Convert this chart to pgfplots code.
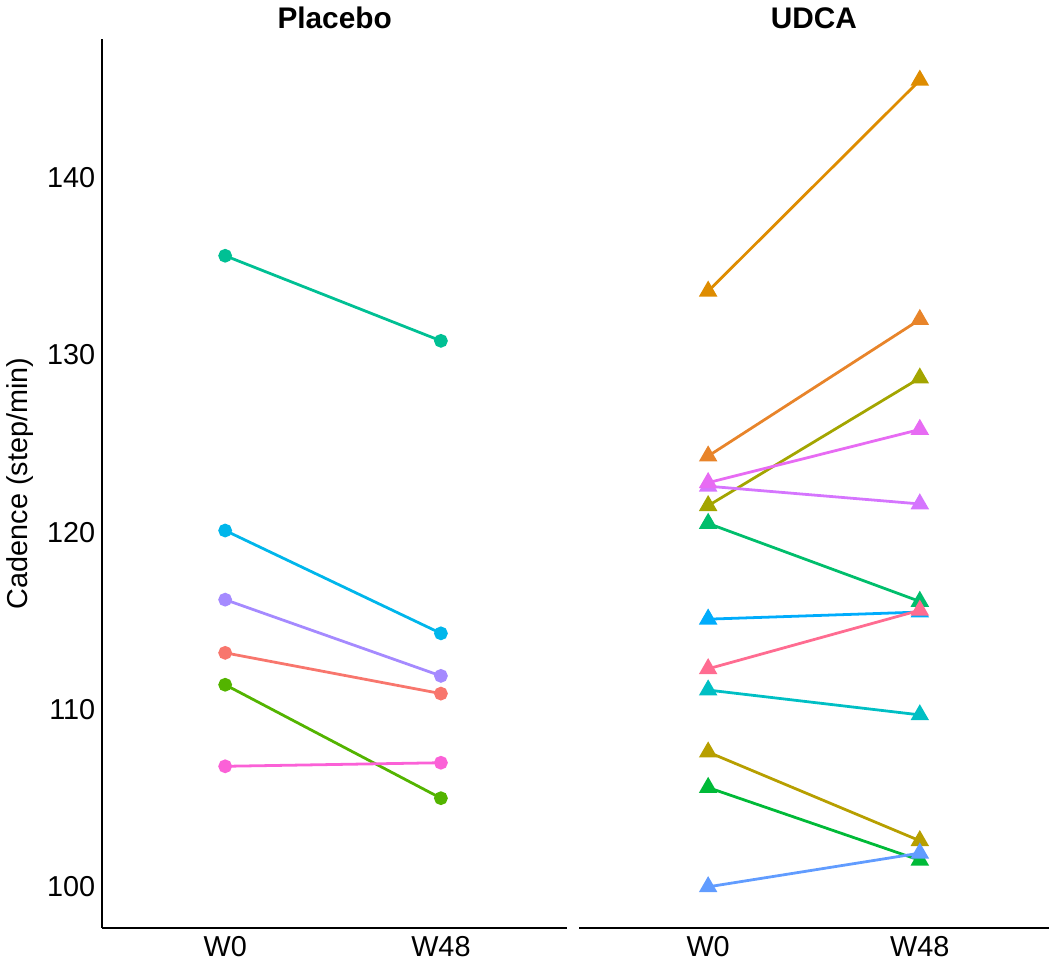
\documentclass[border=0pt]{standalone}
\usepackage{fontspec}
\setmainfont{Liberation Sans}
\usepackage{pgfplots}
\pgfplotsset{compat=1.18}

% ggplot-like hue colours
\definecolor{pRed}{HTML}{F8766D}
\definecolor{pGreen}{HTML}{53B400}
\definecolor{pTeal}{HTML}{00C094}
\definecolor{pCyan}{HTML}{00B6EB}
\definecolor{pPurple}{HTML}{A58AFF}
\definecolor{pPink}{HTML}{FB61D7}
\definecolor{uGoldOr}{HTML}{DE8C00}
\definecolor{uOrange}{HTML}{E8842A}
\definecolor{uOlive}{HTML}{A3A500}
\definecolor{uMagenta}{HTML}{E76BF3}
\definecolor{uViolet}{HTML}{D575FE}
\definecolor{uGreenA}{HTML}{00BE6C}
\definecolor{uBlueA}{HTML}{00ACFC}
\definecolor{uPink}{HTML}{FF6C91}
\definecolor{uCyan}{HTML}{00BFC4}
\definecolor{uGold}{HTML}{B79F00}
\definecolor{uGreenB}{HTML}{00BA38}
\definecolor{uBlueB}{HTML}{619CFF}

\pgfplotsset{
  panel/.style={
    scale only axis, height=447pt,
    ymin=97.7, ymax=147.8,
    xtick={1,2}, xticklabels={W0,W48},
    ytick={100,110,120,130,140},
    major tick length=0pt,
    axis x line*=bottom,
    x axis line style={-, line width=1.1pt},
    tick label style={font=\fontsize{14.5}{17}\selectfont},
    /pgf/number format/assume math mode=true,
    xticklabel style={yshift=-1pt},
    yticklabel style={xshift=0pt},
    title style={font=\fontsize{15}{18}\selectfont\bfseries, yshift=-4pt},
    clip=false,
  },
  circ/.style={color=#1, line width=1.4pt, mark=*, mark size=2.75pt},
  tri/.style={color=#1, line width=1.4pt, mark=triangle*, mark size=4pt},
}

\begin{document}
\begin{tikzpicture}
% Placebo
\begin{axis}[panel, width=234pt, xmin=0.43, xmax=2.585,
  axis y line*=left, y axis line style={-, line width=1.1pt},
  ylabel={Cadence (step/min)},
  ylabel style={font=\fontsize{14.5}{17}\selectfont, yshift=0pt},
  title={Placebo}]
\addplot[circ=pRed]    coordinates {(1,113.2) (2,110.9)};
\addplot[circ=pGreen]  coordinates {(1,111.4) (2,105.0)};
\addplot[circ=pTeal]   coordinates {(1,135.6) (2,130.8)};
\addplot[circ=pCyan]   coordinates {(1,120.1) (2,114.3)};
\addplot[circ=pPurple] coordinates {(1,116.2) (2,111.9)};
\addplot[circ=pPink]   coordinates {(1,106.8) (2,107.0)};
\end{axis}
% UDCA
\begin{axis}[panel, at={(240pt,0)}, width=236.5pt, xmin=0.39, xmax=2.61,
  hide y axis, title={UDCA}]
\addplot[tri=uGoldOr]  coordinates {(1,133.6) (2,145.5)};
\addplot[tri=uOrange]  coordinates {(1,124.3) (2,132.0)};
\addplot[tri=uOlive]   coordinates {(1,121.5) (2,128.7)};
\addplot[tri=uViolet]  coordinates {(1,122.6) (2,121.6)};
\addplot[tri=uMagenta] coordinates {(1,122.8) (2,125.8)};
\addplot[tri=uGreenA]  coordinates {(1,120.5) (2,116.1)};
\addplot[tri=uBlueA]   coordinates {(1,115.1) (2,115.5)};
\addplot[tri=uPink]    coordinates {(1,112.3) (2,115.6)};
\addplot[tri=uCyan]    coordinates {(1,111.1) (2,109.7)};
\addplot[tri=uGold]    coordinates {(1,107.6) (2,102.6)};
\addplot[tri=uGreenB]  coordinates {(1,105.6) (2,101.5)};
\addplot[tri=uBlueB]   coordinates {(1,100.0) (2,101.9)};
\end{axis}
\end{tikzpicture}
\end{document}
